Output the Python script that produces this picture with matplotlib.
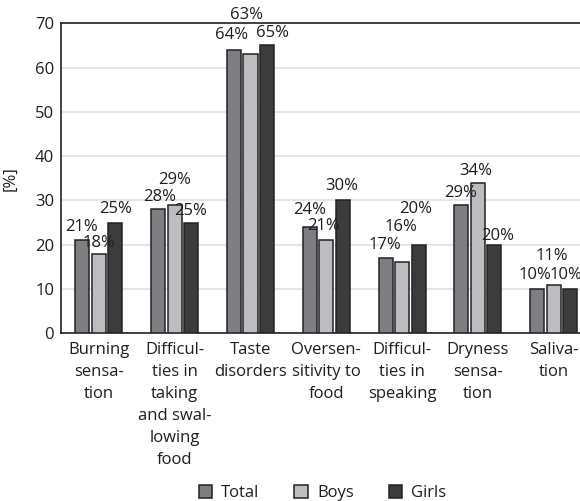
import numpy as np
import matplotlib.pyplot as plt
from matplotlib.patches import Patch

categories = ["Burning\nsensa-\ntion",
              "Difficul-\nties in\ntaking\nand swal-\nlowing\nfood",
              "Taste\ndisorders",
              "Oversen-\nsitivity to\nfood",
              "Difficul-\nties in\nspeaking",
              "Dryness\nsensa-\ntion",
              "Saliva-\ntion"]
total = [21, 28, 64, 24, 17, 29, 10]
boys = [18, 29, 63, 21, 16, 34, 11]
girls = [25, 25, 65, 30, 20, 20, 10]

# label nudges (pixels) so the percentages don't collide
total_off = [(-1, 13), (1, 12), (-2, 15), (0, 17), (-1, 13), (-1, 12), (-2, 14)]
boys_off = [(0, 11), (0, 25), (-4, 39), (-3, 14), (-1, 35), (-2, 12), (-2, 29)]
girls_off = [(0, 14), (-1, 12), (5, 12), (-1, 14), (-3, 36), (3, 9), (-4, 14)]

plt.rcParams['font.family'] = ['Open Sans', 'DejaVu Sans']
txt = '#1e1e1e'
fs = 12

fig = plt.figure(figsize=(5.8, 5.01), dpi=100)
ax = fig.add_axes([61 / 580, 167.7 / 501, 530.6 / 580, 310 / 501])

x = np.arange(len(categories))
w = 0.185
step = 0.218
series = [(total, '#7e7f83', 'Total', total_off),
          (boys, '#bcbdc1', 'Boys', boys_off),
          (girls, '#3c3c3c', 'Girls', girls_off)]

for i, (vals, col, name, offs) in enumerate(series):
    xs = x + (i - 1) * step
    ax.bar(xs, vals, width=w, color=col, edgecolor='#222222', linewidth=1.1, zorder=3)
    for xi, v, (dx, dy) in zip(xs, vals, offs):
        ax.annotate(f"{v}%", (xi, v), xytext=(dx, dy), textcoords='offset pixels',
                    ha='center', va='center', fontsize=fs, color=txt,
                    annotation_clip=False, zorder=4)

ax.set_xlim(-0.5, 6.5)
ax.set_ylim(0, 70)
ax.set_yticks(range(0, 71, 10))
ax.yaxis.grid(True, color='#e2e2e2', linewidth=1.2, zorder=0)
ax.set_axisbelow(True)
ax.set_xticks(x)
ax.set_xticklabels(categories, fontsize=fs, color=txt, linespacing=1.5)
ax.tick_params(axis='both', length=0, labelsize=fs, labelcolor=txt)
ax.tick_params(axis='x', pad=6)
ax.tick_params(axis='y', pad=5)
for s in ['left', 'bottom', 'top']:
    ax.spines[s].set_color('#222222')
    ax.spines[s].set_linewidth(1.2)
ax.spines['right'].set_visible(False)
ax.set_ylabel('[%]', fontsize=fs, color=txt, labelpad=12)

handles = [Patch(facecolor=c, edgecolor='#222222', linewidth=1.1, label=n)
           for _, c, n, _ in series]
fig.legend(handles=handles, loc='center', bbox_to_anchor=(0.556, 0.016), ncol=3,
           frameon=False, fontsize=fs, handlelength=0.8, handleheight=0.8,
           handletextpad=0.55, columnspacing=2.1, labelcolor=txt)

fig.savefig('out.png', dpi=100)
